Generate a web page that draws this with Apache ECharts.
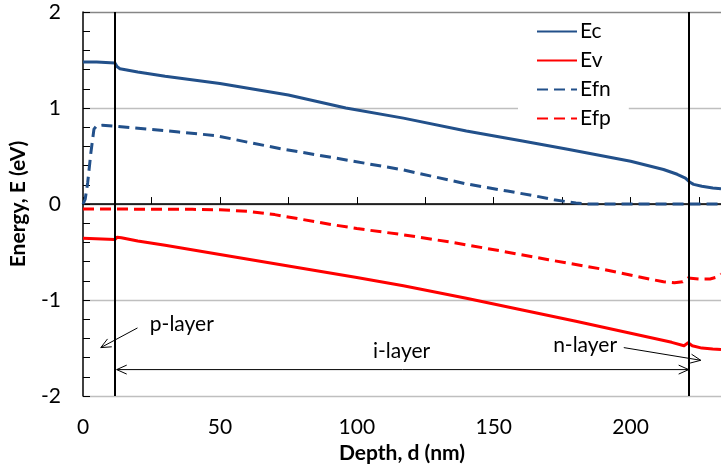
<!DOCTYPE html>
<html>
<head>
<meta charset="utf-8">
<script src="https://cdn.jsdelivr.net/npm/echarts@6/dist/echarts.min.js"></script>
<style>
  html, body { margin: 0; padding: 0; background: #fff; }
  #chart { width: 721px; height: 469px; }
</style>
</head>
<body>
<div id="chart"></div>
<script>
// band energies vs depth, [depth nm, energy eV]
const ecPts = [[0, 1.48], [5, 1.48], [11.6, 1.47], [12.5, 1.43], [13.5, 1.41], [20, 1.375], [30, 1.33], [50, 1.255], [75, 1.135], [96, 1.0], [117, 0.895], [140, 0.76], [160, 0.66], [177, 0.57], [200, 0.445], [212, 0.36], [217, 0.31], [220, 0.27], [221.5, 0.23], [223, 0.205], [226, 0.185], [230, 0.168], [233, 0.16]]
const evPts = [[0, -0.355], [11.6, -0.37], [12.5, -0.345], [14, -0.35], [20, -0.385], [30, -0.43], [50, -0.525], [75, -0.645], [100, -0.765], [117, -0.85], [140, -0.98], [160, -1.1], [180, -1.22], [200, -1.345], [215, -1.44], [219.5, -1.475], [221, -1.445], [222.5, -1.475], [226, -1.5], [230, -1.51], [233, -1.515]]
const efnPts = [[0, 0], [0.8, 0.05], [1.7, 0.22], [2.9, 0.54], [4, 0.78], [5, 0.815], [7, 0.82], [11.6, 0.81], [24, 0.78], [35, 0.75], [48.7, 0.712], [60, 0.645], [73, 0.572], [90, 0.49], [117, 0.355], [140, 0.21], [155, 0.135], [165, 0.085], [172, 0.045], [180, 0.01], [185, 0], [233, 0]]
const efpPts = [[0, -0.052], [20, -0.053], [40, -0.055], [50, -0.06], [60, -0.075], [70, -0.11], [80, -0.16], [90, -0.21], [100, -0.255], [117, -0.32], [135, -0.4], [152, -0.485], [170, -0.58], [189, -0.675], [205, -0.77], [212, -0.81], [216, -0.82], [219, -0.81], [221, -0.77], [225, -0.78], [229, -0.78], [231, -0.765], [233, -0.73]]

const layerEdges = [11.6, 221.4]

const blue = '#22508a'
const red = '#ff0000'
const font = 'Lato, "Open Sans", sans-serif'
const fs = 21

const el = document.getElementById('chart')
const chart = echarts.init(el)

const line = (name, data, color, dashed) => ({
  name,
  type: 'line',
  data,
  showSymbol: false,
  symbol: 'none',
  smooth: false,
  animation: false,
  lineStyle: { color, width: 3, type: dashed ? [11, 6] : 'solid', join: 'round' },
  itemStyle: { color },
})

const series = [
  line('Ec', ecPts, blue, false),
  line('Ev', evPts, red, false),
  line('Efn', efnPts, blue, true),
  line('Efp', efpPts, red, true),
]
series[0].markLine = {
  silent: true,
  symbol: 'none',
  animation: false,
  label: { show: false },
  lineStyle: { color: '#000', width: 2, type: 'solid' },
  data: layerEdges.map(v => ({ xAxis: v })),
}

chart.setOption({
  animation: false,
  textStyle: { fontFamily: font },
  grid: { left: 83, right: 0, top: 12, bottom: 71 },
  legend: {
    data: ['Ec', 'Ev', 'Efn', 'Efp'],
    orient: 'vertical',
    left: 518,
    top: 17,
    padding: [4, 18, 4, 18],
    backgroundColor: '#fff',
    itemWidth: 40,
    itemHeight: 18,
    itemGap: 8,
    itemStyle: { opacity: 0 },
    textStyle: { fontFamily: font, fontSize: fs, color: '#000', padding: [0, 0, 0, -2] },
  },
  xAxis: {
    type: 'value',
    min: 0,
    max: 233,
    interval: 25,
    name: 'Depth, d (nm)',
    nameLocation: 'middle',
    nameGap: 41,
    nameTextStyle: { fontFamily: font, fontSize: fs, fontWeight: 'bold', color: '#000' },
    axisLine: { lineStyle: { color: '#000', width: 1.5 } },
    axisTick: { inside: true, length: 7, lineStyle: { color: '#000', width: 1 } },
    axisLabel: {
      margin: 21, fontSize: fs, color: '#000', fontFamily: font,
      showMaxLabel: false,
      formatter: v => (v % 50 === 0 ? String(v) : ''),
    },
    splitLine: { show: false },
  },
  yAxis: {
    type: 'value',
    min: -2,
    max: 2,
    interval: 1,
    name: 'Energy, E (eV)',
    nameLocation: 'middle',
    nameGap: 54,
    nameTextStyle: { fontFamily: font, fontSize: fs, fontWeight: 'bold', color: '#000' },
    axisLine: { show: true, lineStyle: { color: '#000', width: 1.5 } },
    axisTick: { inside: true, length: 7, lineStyle: { color: '#000', width: 1 } },
    minorTick: { show: true, splitNumber: 5, length: 7, lineStyle: { color: '#000', width: 1 } },
    axisLabel: { margin: 22, fontSize: fs, color: '#000', fontFamily: font },
    splitLine: { lineStyle: { color: ['#bfbfbf', '#bfbfbf', '#868686', '#bfbfbf', '#868686'], width: 1.3 } },
  },
  series,
})

// annotations placed in data coordinates
const pText = { label: 'p-layer', at: [24.4, -1.25] }
const iText = { label: 'i-layer', at: [105.9, -1.53] }
const nText = { label: 'n-layer', at: [171.7, -1.475] }
const pArrow = [[19.9, -1.29], [6.5, -1.495]]
const nArrow = [[197.5, -1.495], [225.6, -1.627]]
const iArrow = [[12.3, -1.724], [221.2, -1.724]]

const px = p => chart.convertToPixel({ gridIndex: 0 }, p)

function head(tip, from) {
  const dx = from[0] - tip[0], dy = from[1] - tip[1]
  const len = Math.hypot(dx, dy)
  const ux = dx / len, uy = dy / len
  const L = 11, a = 0.42
  const c = Math.cos(a), s = Math.sin(a)
  const p1 = [tip[0] + L * (ux * c - uy * s), tip[1] + L * (ux * s + uy * c)]
  const p2 = [tip[0] + L * (ux * c + uy * s), tip[1] + L * (-ux * s + uy * c)]
  return { type: 'polyline', shape: { points: [p1, tip, p2] }, style: { stroke: '#000', lineWidth: 1, fill: null } }
}

function arrow(pts, both) {
  const a = px(pts[0]), b = px(pts[1])
  const out = [
    { type: 'line', shape: { x1: a[0], y1: a[1], x2: b[0], y2: b[1] }, style: { stroke: '#000', lineWidth: 1 } },
    head(b, a),
  ]
  if (both) out.push(head(a, b))
  return out
}

function text(t) {
  const p = px(t.at)
  return {
    type: 'text', x: p[0], y: p[1],
    style: { text: t.label, fontFamily: font, fontSize: fs, fill: '#000', align: 'left', verticalAlign: 'middle' },
  }
}

chart.setOption({
  graphic: [
    ...arrow(pArrow, false),
    ...arrow(nArrow, false),
    ...arrow(iArrow, true),
    text(pText), text(iText), text(nText),
  ],
})

window.addEventListener('resize', () => chart.resize())
</script>
</body>
</html>
